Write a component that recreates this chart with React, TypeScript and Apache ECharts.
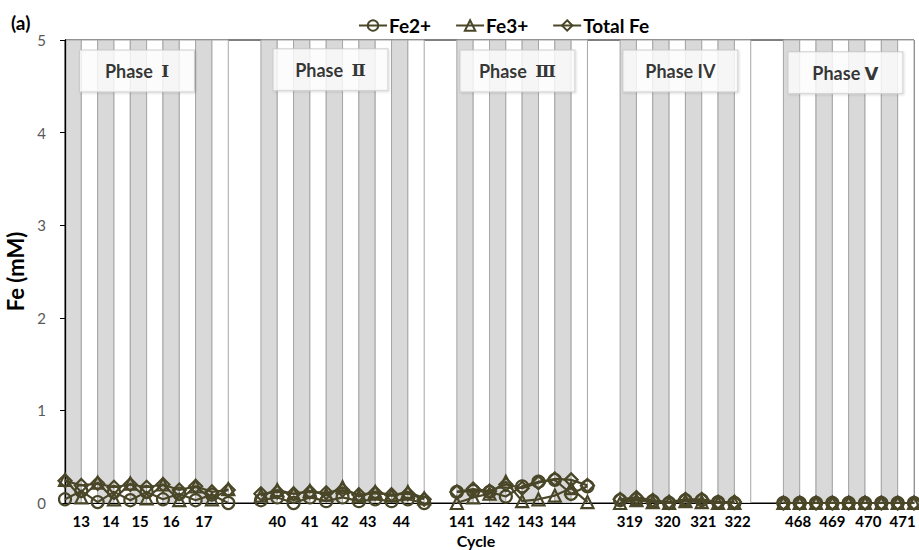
import React, { useEffect, useRef } from "react";
import * as echarts from "echarts";

// ---- data ----
const phaseNames = ["Phase {r|Ⅰ}", "Phase {r|Ⅱ}", "Phase {r|Ⅲ}", "Phase IV", "Phase Ⅴ"];
// first half-cycle slot of each phase on the (hidden) slot axis
const phaseStartSlot = [0, 12, 24, 34, 44];
const phaseCycles = [
  [13, 14, 15, 16, 17],
  [40, 41, 42, 43, 44],
  [141, 142, 143, 144],
  [319, 320, 321, 322],
  [468, 469, 470, 471],
];
// where each cycle label sits on the slot axis
const cycleLabelSlots = [
  [1, 2.8, 4.6, 6.5, 8.5],
  [13, 15, 16.85, 18.55, 20.6],
  [24.3, 26.45, 28.5, 30.5],
  [34.6, 36.9, 39.1, 41.2],
  [44.9, 47, 49.2, 51.3],
];

const fe2 = [
  [0.04, 0.13, 0.01, 0.12, 0.03, 0.12, 0.04, 0.1, 0.03, 0.09, 0.0],
  [0.03, 0.06, 0.0, 0.06, 0.02, 0.06, 0.02, 0.04, 0.02, 0.04, 0.0],
  [0.12, 0.13, 0.12, 0.07, 0.18, 0.23, 0.25, 0.1, 0.18],
  [0.03, 0.04, 0.02, 0.0, 0.03, 0.03, 0.01, 0.0],
  [0, 0, 0, 0, 0, 0, 0, 0, 0],
];
const fe3 = [
  [0.25, 0.06, 0.22, 0.04, 0.21, 0.05, 0.2, 0.03, 0.18, 0.04, 0.15],
  [0.08, 0.14, 0.1, 0.13, 0.09, 0.17, 0.07, 0.12, 0.08, 0.12, 0.05],
  [0.0, 0.06, 0.1, 0.23, 0.02, 0.04, 0.08, 0.16, 0.01],
  [0.0, 0.03, 0.01, 0.0, 0.02, 0.01, 0.0, 0.0],
  [0, 0, 0, 0, 0, 0, 0, 0, 0],
];
const totalFe = [
  [0.24, 0.19, 0.21, 0.17, 0.2, 0.17, 0.2, 0.14, 0.18, 0.12, 0.14],
  [0.1, 0.12, 0.1, 0.12, 0.11, 0.14, 0.09, 0.11, 0.09, 0.1, 0.04],
  [0.12, 0.15, 0.13, 0.2, 0.16, 0.22, 0.26, 0.25, 0.19],
  [0.04, 0.06, 0.03, 0.01, 0.04, 0.04, 0.01, 0.01],
  [0, 0, 0, 0, 0, 0, 0, 0, 0],
];

const yTicks = [0, 1, 2, 3, 4, 5];

// annotation anchors (slot, value) for the phase boxes
const phaseBoxAnchor = [
  [4.41, 4.665],
  [16.26, 4.68],
  [27.71, 4.665],
  [37.69, 4.665],
  [47.8, 4.645],
];

const FONT = "Lato, 'Open Sans', 'DejaVu Sans', sans-serif";
const OLIVE = "#4a4728";
const SLOT_MAX = 52;

export default function App() {
  const ref = useRef<HTMLDivElement>(null);

  useEffect(() => {
    if (!ref.current) return;
    const chart = echarts.init(ref.current, null, { renderer: "svg" });

    // bands: each cycle = a grey half-cycle then a white half-cycle
    const bands: number[][] = [];
    phaseCycles.forEach((cycles, p) => {
      cycles.forEach((_c, i) => {
        const s = phaseStartSlot[p] + 2 * i;
        bands.push([s, s + 1, 0, 5]);
        bands.push([s + 1, s + 2, 1, 5]);
      });
    });

    const labelSlots: number[] = [];
    const labelTexts: string[] = [];
    cycleLabelSlots.forEach((arr, p) =>
      arr.forEach((v, i) => {
        labelSlots.push(v);
        labelTexts.push(String(phaseCycles[p][i]));
      })
    );

    const makeSeries = (name: string, symbol: string, vals: number[][], size: number) =>
      vals.map((arr, p) => ({
        type: "line",
        name,
        z: 10,
        symbol,
        symbolSize: size,
        showSymbol: true,
        data: arr.map((v, i) => [phaseStartSlot[p] + i, v]),
        lineStyle: { color: OLIVE, width: 2.2 },
        itemStyle: { color: "rgba(255,255,255,0)", borderColor: OLIVE, borderWidth: 2.2 },
        emphasis: { disabled: true },
        silent: true,
      }));

    const option: any = {
      animation: false,
      textStyle: { fontFamily: FONT },
      title: {
        text: "(a)",
        left: 6,
        top: 8,
        textStyle: { fontFamily: FONT, fontSize: 19, fontWeight: "bold", color: "#000" },
      },
      legend: {
        data: ["Fe2+", "Fe3+", "Total Fe"],
        left: 353,
        top: 11,
        itemWidth: 28,
        itemHeight: 13,
        itemGap: 24,
        textStyle: { fontFamily: FONT, fontSize: 19, fontWeight: "bold", color: "#000", padding: [0, 0, 0, -3] },
      },
      grid: {
        left: 65,
        right: 5,
        top: 40,
        bottom: 47,
        show: true,
        borderColor: "#000",
        borderWidth: 1,
        containLabel: false,
        outerBoundsMode: "none",
      },
      xAxis: [
        {
          type: "value",
          min: 0,
          max: SLOT_MAX,
          z: 5,
          splitLine: { show: false },
          axisLine: { show: true, lineStyle: { color: "#8c8c8c", width: 1 } },
          axisTick: { show: false },
          axisLabel: {
            customValues: labelSlots,
            formatter: (v: number) => {
              const i = labelSlots.findIndex((s) => Math.abs(s - v) < 1e-6);
              return i >= 0 ? labelTexts[i] : "";
            },
            fontFamily: FONT,
            fontSize: 15,
            fontWeight: "bold",
            color: "#000",
            margin: 10,
            hideOverlap: false,
          },
          name: "Cycle",
          nameLocation: "middle",
          nameGap: 25,
          nameTextStyle: { fontFamily: FONT, fontSize: 16, fontWeight: "bold", color: "#000", padding: [0, 27, 0, 0] },
        },
        {
          type: "value",
          position: "top",
          min: 0,
          max: SLOT_MAX,
          z: 5,
          splitLine: { show: false },
          axisLine: { show: true, lineStyle: { color: "#000", width: 1 } },
          axisTick: { show: false },
          axisLabel: { show: false },
        },
      ],
      yAxis: [
        {
          type: "value",
          min: 0,
          max: 5,
          interval: 1,
          z: 5,
          splitLine: { show: false },
          axisLine: { show: true, lineStyle: { color: "#000", width: 1.3 } },
          axisTick: { show: true, length: 5, inside: false, lineStyle: { color: "#000" } },
          axisLabel: {
            fontFamily: FONT,
            fontSize: 15,
            color: "#595959",
            margin: 19,
            formatter: (v: number) => (yTicks.includes(v) ? String(v) : ""),
          },
          name: "Fe (mM)",
          nameLocation: "middle",
          nameGap: 30,
          nameTextStyle: { fontFamily: FONT, fontSize: 22, fontWeight: "bold", color: "#000" },
        },
        {
          type: "value",
          position: "right",
          min: 0,
          max: 5,
          z: 5,
          splitLine: { show: false },
          axisLine: { show: true, lineStyle: { color: "#000", width: 1 } },
          axisTick: { show: false },
          axisLabel: { show: false },
        },
      ],
      series: [
        {
          type: "custom",
          name: "bands",
          z: 1,
          silent: true,
          xAxisIndex: 0,
          yAxisIndex: 0,
          encode: { x: [0, 1], y: 3 },
          data: bands,
          renderItem: (_params: any, api: any) => {
            const p0 = api.coord([api.value(0), 5]);
            const p1 = api.coord([api.value(1), 0]);
            return {
              type: "rect",
              shape: { x: p0[0], y: p0[1], width: p1[0] - p0[0], height: p1[1] - p0[1] },
              style: {
                fill: api.value(2) === 0 ? "#d9d9d9" : "#ffffff",
                stroke: "#a6a6a6",
                lineWidth: 1,
              },
            };
          },
        },
        {
          type: "scatter",
          name: "phases",
          z: 8,
          silent: true,
          symbolSize: 1,
          itemStyle: { color: "rgba(0,0,0,0)" },
          data: phaseBoxAnchor,
          label: {
            show: true,
            position: "inside",
            formatter: (p: any) => phaseNames[p.dataIndex],
            width: 114,
            height: 41,
            lineHeight: 41,
            align: "center",
            verticalAlign: "middle",
            backgroundColor: "#ffffff",
            borderColor: "#c8c8c8",
            borderWidth: 1,
            shadowColor: "rgba(0,0,0,0.15)",
            shadowBlur: 2,
            shadowOffsetX: 1,
            shadowOffsetY: 1,
            fontFamily: FONT,
            fontSize: 18,
            fontWeight: "bold",
            color: "#000",
            rich: {
              r: {
                fontFamily: "'DejaVu Serif', 'Liberation Serif', serif",
                fontSize: 17,
                fontWeight: "bold",
                color: "#000",
                lineHeight: 41,
                padding: [0, 0, 0, 4],
              },
            },
          },
        },
        ...makeSeries("Fe2+", "circle", fe2, 12),
        ...makeSeries("Fe3+", "triangle", fe3, 12),
        ...makeSeries("Total Fe", "diamond", totalFe, 13),
      ],
    };

    chart.setOption(option);
    return () => chart.dispose();
  }, []);

  return (
    <div
      ref={ref}
      style={{ position: "fixed", left: 0, top: 0, width: 919, height: 550, background: "#fff" }}
    />
  );
}
